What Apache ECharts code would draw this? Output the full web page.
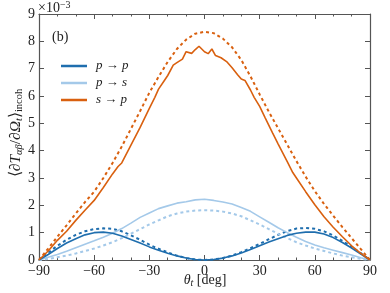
<!DOCTYPE html>
<html><head><meta charset="utf-8">
<script src="https://cdn.jsdelivr.net/npm/echarts@6/dist/echarts.min.js"></script>
<style>html,body{margin:0;padding:0;background:#fff}#c{width:390px;height:293px}</style>
</head><body><div id="c"></div>
<script>
// angles (deg)
const theta5 = [-90,-85,-80,-75,-70,-65,-60,-55,-50,-45,-40,-35,-30,-25,-20,-15,-10,-5,0,5,10,15,20,25,30,35,40,45,50,55,60,65,70,75,80,85,90];
// s -> p simulated (solid)
const thetaSP = [-90,-85,-80,-75,-70,-65,-60,-55,-50,-47,-45,-40,-35,-30,-27,-25,-22,-20,-17,-15,-12,-10,-7,-5,-3,0,2,4,6,9,12,15,18,20,22,25,27,30,33,37,40,45,48,50,55,60,65,70,75,80,85,90];
const spSolid = [0,0.33,0.72,1.05,1.45,1.82,2.18,2.65,3.15,3.42,3.55,4.2,4.85,5.55,5.95,6.25,6.55,6.75,7.13,7.22,7.35,7.62,7.56,7.7,7.82,7.62,7.55,7.72,7.48,7.4,7.26,7.03,6.78,6.62,6.57,6.22,5.95,5.62,5.2,4.65,4.25,3.6,3.2,3.0,2.5,2.02,1.58,1.2,0.85,0.52,0.24,0];
// s -> p model (dashed)
const spDash = [0,0.42,0.85,1.27,1.7,2.12,2.5,3.0,3.55,4.15,4.8,5.45,6.12,6.7,7.25,7.72,8.06,8.28,8.35,8.3,8.1,7.78,7.32,6.72,6.06,5.42,4.82,4.22,3.62,3.05,2.52,2.05,1.62,1.2,0.8,0.4,0];
// p -> p
const ppSolid = [0,0.2,0.42,0.62,0.78,0.92,1.0,1.02,0.98,0.88,0.75,0.62,0.48,0.36,0.25,0.15,0.07,0.02,0,0.02,0.07,0.15,0.26,0.38,0.52,0.66,0.78,0.9,0.98,1.02,1.02,0.95,0.82,0.64,0.44,0.22,0];
const ppDash = [0,0.27,0.52,0.74,0.92,1.05,1.13,1.16,1.14,1.05,0.9,0.74,0.56,0.41,0.28,0.16,0.07,0.02,0,0.02,0.07,0.16,0.29,0.43,0.59,0.76,0.92,1.06,1.15,1.17,1.14,1.05,0.9,0.7,0.48,0.25,0];
// p -> s
const psSolid = [0,0.1,0.2,0.32,0.45,0.58,0.7,0.83,0.98,1.15,1.35,1.56,1.72,1.88,1.98,2.08,2.13,2.2,2.22,2.18,2.12,2.05,1.92,1.78,1.58,1.38,1.18,1.0,0.83,0.68,0.55,0.45,0.36,0.27,0.18,0.08,0];
const psDash = [0,0.04,0.1,0.16,0.24,0.33,0.42,0.53,0.65,0.8,0.96,1.13,1.3,1.45,1.6,1.7,1.77,1.81,1.82,1.81,1.77,1.7,1.6,1.45,1.3,1.13,0.96,0.8,0.65,0.53,0.42,0.33,0.24,0.16,0.1,0.04,0];
const xTicks = [-90,-60,-30,0,30,60,90];
const yTicks = [0,1,2,3,4,5,6,7,8,9];
const legendNames = ['p → p','p → s','s → p'];

const cDark = '#1f6eae', cLight = '#a4c9e9', cOrange = '#d9600f';
const pairs = (xs, ys) => xs.map((x,i)=>[x, ys[i]]);
const serif = 'Liberation Serif';
const chart = echarts.init(document.getElementById('c'));
const axisCommon = {
  type:'value', min:xTicks[0], max:xTicks[xTicks.length-1], interval:30,
  axisLine:{show:true,onZero:false,lineStyle:{color:'#555',width:1.2}},
  axisTick:{show:true,inside:true,length:5,lineStyle:{color:'#555'}},
  minorTick:{show:true,splitNumber:3,length:2.5,lineStyle:{color:'#555'}},
  splitLine:{show:false}
};
const yCommon = {
  type:'value', min:yTicks[0], max:yTicks[yTicks.length-1], interval:1,
  axisLine:{show:true,onZero:false,lineStyle:{color:'#555',width:1.2}},
  axisTick:{show:true,inside:true,length:5,lineStyle:{color:'#555'}},
  splitLine:{show:false}
};
function line(name, xs, ys, color, dashed, w){
  return {name, type:'line', data:pairs(xs,ys), showSymbol:false, symbol:'none', smooth:false,
    lineStyle:{color, width:w, type: dashed ? [3,3] : 'solid'}, itemStyle:{color}, z: dashed?2:3, animation:false};
}
chart.setOption({
  animation:false,
  grid:{left:39,right:20,top:14,bottom:33},
  xAxis:[
    Object.assign({}, axisCommon, {position:'bottom', axisLabel:{show:true,color:'#222',fontFamily:serif,fontSize:14,margin:4,
      formatter:v=> (v<0?'\u2212'+(-v):''+v)}}),
    Object.assign({}, axisCommon, {position:'top', axisLabel:{show:false}})
  ],
  yAxis:[
    Object.assign({}, yCommon, {position:'left', axisLabel:{show:true,color:'#222',fontFamily:serif,fontSize:14,margin:4}}),
    Object.assign({}, yCommon, {position:'right', axisLabel:{show:false}})
  ],
  legend:{data:legendNames, orient:'vertical', left:56, top:54, icon:'rect', itemWidth:26, itemHeight:2.5, itemGap:3,
    textStyle:{fontFamily:serif, fontStyle:'italic', fontSize:13, color:'#222', padding:[0,0,0,4], lineHeight:14}},
  series:[
    line('pp_d', theta5, ppDash, cDark, true, 2),
    line('ps_d', theta5, psDash, cLight, true, 2),
    line('sp_d', theta5, spDash, cOrange, true, 2),
    line('p → s', theta5, psSolid, cLight, false, 1.6),
    line('p → p', theta5, ppSolid, cDark, false, 1.6),
    line('s → p', thetaSP, spSolid, cOrange, false, 1.6)
  ],
  graphic:[
    {type:'text', left:52, top:30, style:{text:'(b)', fontFamily:serif, fontSize:14, fill:'#222'}},
    {type:'text', left:38, top:0, style:{rich:{a:{fontFamily:serif,fontSize:14,fill:'#222'},s:{fontFamily:serif,fontSize:10,fill:'#222',verticalAlign:'top',padding:[0,0,6,0]}},
      text:'{a|×10}{s|−3}', fill:'#222'}},
    {type:'text', x:205, y:288, style:{rich:{a:{fontFamily:serif,fontSize:14,fill:'#222',fontStyle:'italic'},b:{fontFamily:serif,fontSize:14,fill:'#222'},s:{fontFamily:serif,fontSize:10,fill:'#222',fontStyle:'italic',padding:[6,0,0,0]}},
      text:'{a|θ}{s|t}{b| [deg]}', textAlign:'center', textVerticalAlign:'bottom'}},
    {type:'text', x:16, y:133, rotation:Math.PI/2, style:{rich:{a:{fontFamily:serif,fontSize:15.5,fill:'#222'},i:{fontFamily:serif,fontSize:15.5,fill:'#222',fontStyle:'italic'},s:{fontFamily:serif,fontSize:10.5,fill:'#222',fontStyle:'italic',padding:[7,0,0,0]},r:{fontFamily:serif,fontSize:10.5,fill:'#222',padding:[7,0,0,0]}},
      text:'{a|⟨∂}{i|T}{s|αβ}{a|/∂}{i|Ω}{s|t}{a|⟩}{r|incoh}', textAlign:'center', textVerticalAlign:'middle'}}
  ]
});
</script></body></html>
